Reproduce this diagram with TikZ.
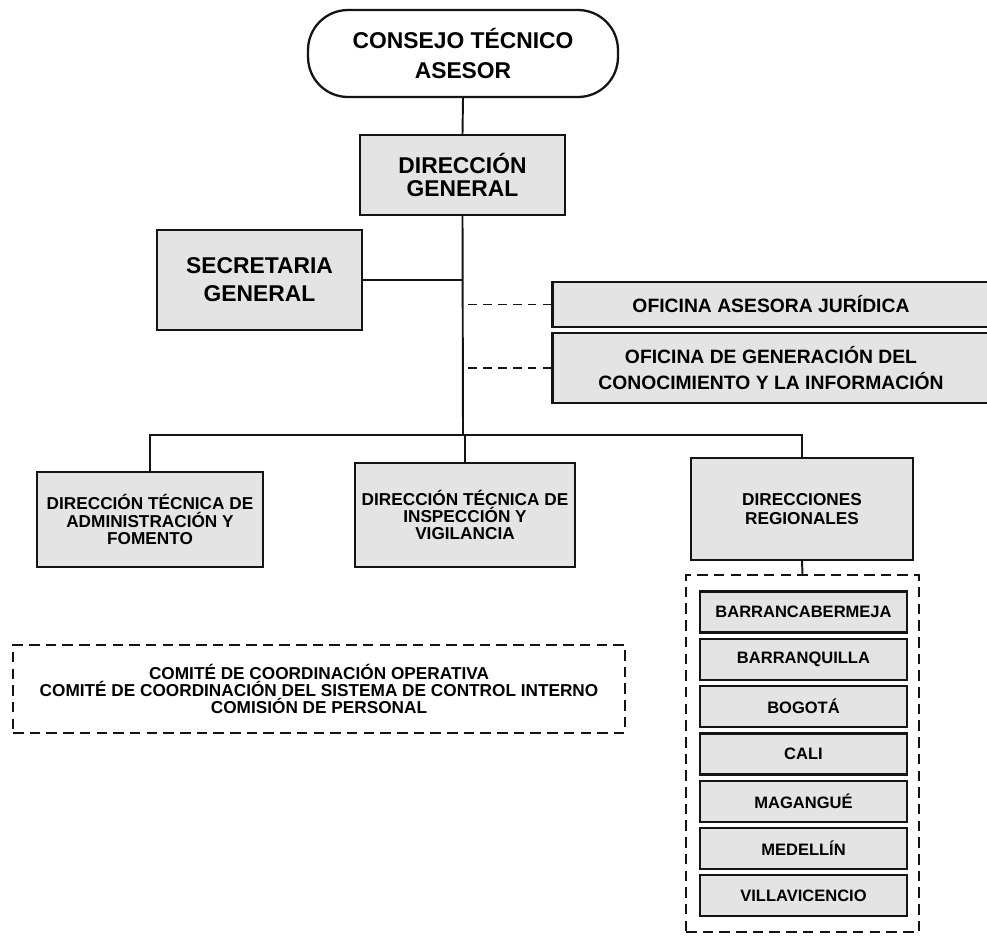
\documentclass[tikz,border=0pt]{standalone}
\usepackage{fontspec}
\setmainfont{Liberation Sans}
\usetikzlibrary{positioning}
\definecolor{ink}{HTML}{141414}
\definecolor{stipple}{HTML}{E4E4E4}
\tikzset{
  unit/.style={draw=ink,fill=stipple,line width=1.3pt,align=center,
               inner sep=2pt},
  council/.style={draw=ink,fill=white,line width=1.3pt,align=center,
                  rounded corners=0.8cm,inner sep=2pt},
  ghostbox/.style={draw=ink,line width=1.1pt,dash pattern=on 6pt off 3.5pt,
                   align=center,inner sep=2pt},
  link/.style={draw=ink,line width=1.1pt},
  dottedlink/.style={draw=ink,line width=1.1pt,dash pattern=on 5pt off 3.5pt},
  bigtxt/.style={font=\fontsize{13}{17}\selectfont\bfseries},
  midtxt/.style={font=\fontsize{11}{15}\selectfont\bfseries},
  smalltxt/.style={font=\fontsize{9.8}{9.8}\selectfont\bfseries},
  citytxt/.style={font=\fontsize{9.4}{11}\selectfont\bfseries}
}
\begin{document}
\begin{tikzpicture}[x=0.02cm,y=-0.02cm]
    \clip (0,0) rectangle (987,938);
    \fill[white] (0,0) rectangle (987,938);
    \node[council,bigtxt,minimum width=6.2cm,minimum height=1.74cm] (cta) at (463,53.5)
      {CONSEJO TÉCNICO\\ASESOR};
    \node[unit,font=\fontsize{13}{13.6}\selectfont\bfseries,minimum width=4.1cm,minimum height=1.6cm] (dg) at (462.5,175)
      {DIRECCIÓN\\GENERAL};
    \node[unit,font=\fontsize{13}{16}\selectfont\bfseries,minimum width=4.1cm,minimum height=2cm] (sec) at (259.5,280)
      {SECRETARIA\\GENERAL};
    \node[unit,midtxt,minimum width=8.74cm,minimum height=0.9cm] (ofj) at (771,304.5)
      {OFICINA ASESORA JURÍDICA};
    \node[unit,midtxt,minimum width=8.74cm,minimum height=1.4cm] (ofc) at (771,368)
      {OFICINA DE GENERACIÓN DEL\\CONOCIMIENTO Y LA INFORMACIÓN};
    \coordinate (bar) at (463,435);
    \node[unit,smalltxt,minimum width=4.52cm,minimum height=1.9cm] (adm) at (150,519.5)
      {DIRECCIÓN TÉCNICA DE\\ADMINISTRACIÓN Y\\FOMENTO};
    \node[unit,smalltxt,minimum width=4.4cm,minimum height=2.08cm] (insp) at (465,515)
      {DIRECCIÓN TÉCNICA DE\\INSPECCIÓN Y\\VIGILANCIA};
    \node[unit,font=\fontsize{9.8}{11.2}\selectfont\bfseries,minimum width=4.44cm,minimum height=2.04cm] (reg) at (802,509)
      {DIRECCIONES\\REGIONALES};
    \node[ghostbox,minimum width=4.66cm,minimum height=7.14cm] (regbox) at (802.5,753.5) {};
    \foreach \city [count=\i from 0] in {BARRANCABERMEJA,BARRANQUILLA,BOGOTÁ,CALI,MAGANGUÉ,MEDELLÍN,VILLAVICENCIO}
      \node[unit,citytxt,minimum width=4.14cm,minimum height=0.82cm] (city\i) at (803.5,612+47.3*\i) {\city};
    \node[ghostbox,font=\fontsize{9.8}{9.8}\selectfont\bfseries,minimum width=12.24cm,minimum height=1.76cm] (com) at (319,689)
      {COMITÉ DE COORDINACIÓN OPERATIVA\\
       COMITÉ DE COORDINACIÓN DEL SISTEMA DE CONTROL INTERNO\\
       COMISIÓN DE PERSONAL};
    \draw[link] (cta.south) -- (dg.north);
    \draw[link] (dg.south) -- (bar);
    \draw[link] (sec.east) -- (sec.east -| bar);
    \draw[dottedlink] (ofj.west) -- (ofj.west -| bar);
    \draw[dottedlink] (ofc.west) -- (ofc.west -| bar);
    \draw[link] (adm.north) |- (bar) -| (reg.north);
    \draw[link] (insp.north) -- (insp.north |- bar);
    \draw[link] (reg.south) -- (regbox.north);
  \end{tikzpicture}
\end{document}
